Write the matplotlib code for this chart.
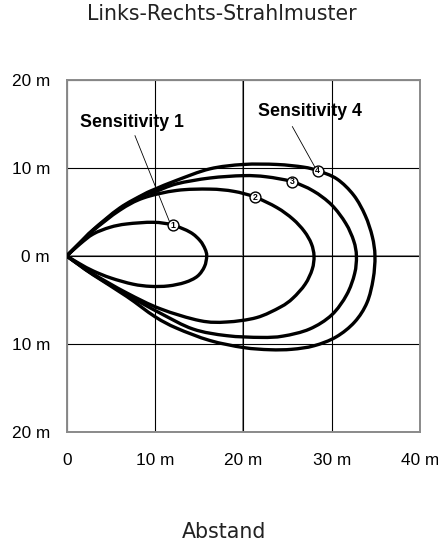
import matplotlib
matplotlib.use("Agg")
import matplotlib.pyplot as plt
from matplotlib.path import Path
from matplotlib.patches import PathPatch

# beam outlines (metres), origin -> upper edge -> tip -> lower edge -> origin
sens1_x = [0, 1.5, 3.0, 4.9, 6.8, 9.8, 12.0, 14.0, 15.1, 15.66, 15.85,
           15.6, 14.8, 13.4, 11.5, 9.5, 7.5, 5.0, 3.0, 1.5, 0]
sens1_y = [0, 1.36, 2.5, 3.26, 3.64, 3.83, 3.52, 2.69, 1.74, 0.8, 0,
           -1.2, -2.3, -3.0, -3.4, -3.45, -3.2, -2.5, -1.7, -0.9, 0]

sens2_x = [0, 1.5, 3.0, 6.0, 8.7, 12.45, 16.2, 18.9, 21.3, 23.8, 25.6, 26.9, 27.7, 28.0,
           27.8, 27.0, 25.6, 24.2, 21.5, 18.1, 15.1, 10.6, 6.8, 3.0, 1.5, 0]
sens2_y = [0, 1.5, 2.9, 5.2, 6.6, 7.45, 7.6, 7.35, 6.7, 5.5, 4.2, 2.8, 1.4, 0,
           -1.5, -3.2, -4.8, -5.8, -7.0, -7.5, -7.35, -6.0, -4.2, -2.05, -1.05, 0]

sens3_x = [0, 1.5, 3.0, 6.0, 8.7, 10.0, 12.45, 16.2, 20.0, 22.6, 25.5, 27.9, 30.0, 31.6, 32.5, 32.8,
           32.6, 31.7, 30.0, 27.5, 24.5, 22.0, 18.1, 14.3, 10.6, 6.8, 3.0, 1.5, 0]
sens3_y = [0, 1.5, 2.95, 5.35, 6.9, 7.3, 8.2, 8.86, 9.13, 9.0, 8.45, 7.4, 5.8, 3.7, 1.7, 0,
           -2.0, -4.4, -6.7, -8.3, -9.1, -9.25, -9.05, -8.3, -6.5, -4.4, -2.1, -1.05, 0]

sens4_x = [0, 1.5, 3.0, 6.0, 8.7, 10.0, 12.45, 16.2, 20.0, 23.8, 26.8, 28.4, 30.6, 32.5, 33.8, 34.6, 34.9,
           34.7, 34.0, 32.6, 30.5, 28.0, 25.5, 23.0, 20.0, 16.2, 12.45, 10.0, 6.8, 3.0, 1.5, 0]
sens4_y = [0, 1.5, 3.0, 5.45, 7.0, 7.6, 8.6, 9.9, 10.4, 10.4, 10.1, 9.7, 8.75, 6.9, 4.6, 2.2, 0,
           -2.6, -5.3, -7.5, -9.2, -10.2, -10.6, -10.65, -10.4, -9.6, -8.2, -6.9, -4.6, -2.15, -1.1, 0]

marker_x = [12.0, 21.3, 25.5, 28.4]
marker_y = [3.52, 6.7, 8.45, 9.7]
marker_labels = ["1", "2", "3", "4"]

x_ticks = [0, 10, 20, 30, 40]
x_labels = ["0", "10 m", "20 m", "30 m", "40 m"]
y_ticks = [-20, -10, 0, 10, 20]
y_labels = ["20 m", "10 m", "0 m", "10 m", "20 m"]

GRAY = "#8a8a8a"


def smooth_path(xs, ys):
    # Catmull-Rom through the traced points, handed to matplotlib as cubic Bezier segments
    pts = list(zip(xs, ys))
    n = len(pts)
    verts, codes = [pts[0]], [Path.MOVETO]
    for i in range(n - 1):
        p0 = pts[max(i - 1, 0)]
        p1, p2 = pts[i], pts[i + 1]
        p3 = pts[min(i + 2, n - 1)]
        c1 = (p1[0] + (p2[0] - p0[0]) / 6, p1[1] + (p2[1] - p0[1]) / 6)
        c2 = (p2[0] - (p3[0] - p1[0]) / 6, p2[1] - (p3[1] - p1[1]) / 6)
        verts += [c1, c2, p2]
        codes += [Path.CURVE4] * 3
    return Path(verts, codes)


fig = plt.figure(figsize=(4.38, 5.43), dpi=100)
ax = fig.add_axes([0.1523, 0.2044, 0.8066, 0.6483])
ax.set_xlim(0, 40); ax.set_ylim(-20, 20)

ax.set_xticks(x_ticks, x_labels, fontfamily="Liberation Sans", fontsize=12.4)
ax.set_yticks(y_ticks, y_labels, fontfamily="Liberation Sans", fontsize=12.4)
ax.tick_params(axis="both", length=0)
ax.tick_params(axis="y", pad=12)
ax.tick_params(axis="x", pad=15)
ax.grid(color="black", lw=0.8, zorder=0)
ax.axvline(20, color=GRAY, lw=1.4, zorder=1)
ax.axhline(0, color=GRAY, lw=1.4, zorder=1)
for s in ax.spines.values():
    s.set_color(GRAY); s.set_linewidth(1.4)

for xs, ys in [(sens1_x, sens1_y), (sens2_x, sens2_y), (sens3_x, sens3_y), (sens4_x, sens4_y)]:
    ax.add_patch(PathPatch(smooth_path(xs, ys), fill=False, edgecolor="black", lw=2.4,
                           joinstyle="round", capstyle="round", zorder=3))

# leader lines
ax.plot([7.73, 11.6], [13.67, 4.0], color="black", lw=0.6, zorder=2)
ax.plot([25.55, 28.1], [14.7, 10.1], color="black", lw=0.6, zorder=2)
ax.text(7.43, 14.7, "Sensitivity 1", ha="center", va="baseline",
        fontfamily="Liberation Sans", fontweight="bold", fontsize=12.8)
ax.text(27.5, 15.9, "Sensitivity 4", ha="center", va="baseline",
        fontfamily="Liberation Sans", fontweight="bold", fontsize=12.8)

ax.plot(marker_x, marker_y, "o", ms=7.8, mfc="white", mec="black", mew=1.0, zorder=4)
for mx, my, lab in zip(marker_x, marker_y, marker_labels):
    ax.text(mx, my, lab, ha="center", va="center", fontsize=6.3, fontweight="bold",
            fontfamily="Liberation Sans", zorder=5)

fig.text(221.5 / 438, 1 - 14.5 / 543, "Links-Rechts-Strahlmuster", ha="center", va="center",
         fontsize=14.8, color="#222222")
fig.text(224.5 / 438, 1 - 532 / 543, "Abstand", ha="center", va="center",
         fontsize=14.8, color="#222222")

fig.savefig("out.png", dpi=100)
